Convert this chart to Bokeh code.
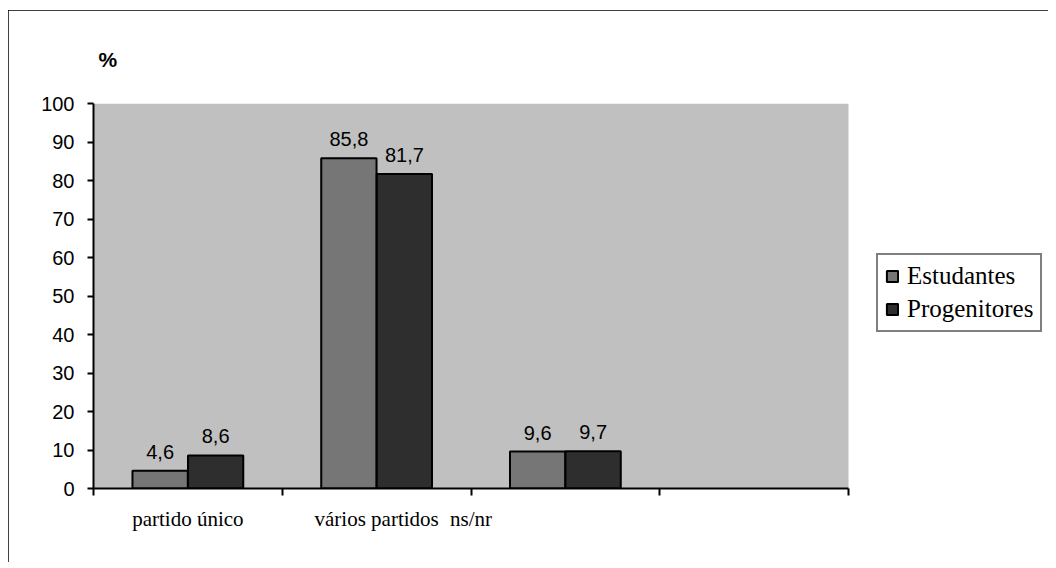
from bokeh.plotting import figure
from bokeh.models import Range1d, FixedTicker, LabelSet, ColumnDataSource, Legend, LegendItem, BoxAnnotation
from bokeh.embed import file_html
from bokeh.resources import INLINE
from bokeh.core.properties import value

categories = ["partido único", "vários partidos", "ns/nr", ""]
series_names = ["Estudantes", "Progenitores"]
estudantes = [4.6, 85.8, 9.6]
progenitores = [8.6, 81.7, 9.7]
y_ticks = list(range(0, 101, 10))

# label positions along the category axis (as printed in the original)
label_pos = [0.5, 1.5, 2.0]

colors = ["#767676", "#2e2e2e"]
offsets = [-0.147, 0.147]
bar_w = 0.293

W, H = 1040, 552
LEFT, RIGHT, TOP, BOTTOM = 85, 4, 93, 74
plot_px = 755  # pixel width of the shaded plot area
frame_w = W - LEFT - RIGHT
n = len(categories)
x_end = n * frame_w / plot_px

p = figure(width=W, height=H, output_backend="svg", toolbar_location=None,
           x_range=Range1d(0, x_end), y_range=Range1d(0, y_ticks[-1]),
           min_border_left=LEFT, min_border_right=RIGHT, min_border_top=TOP, min_border_bottom=BOTTOM)
p.styles = {"margin": "10px 0px 0px 8px", "width": f"{W}px", "height": f"{H}px",
            "outline": "2px solid black", "outline-offset": "-2px"}
p.background_fill_color = "white"
p.border_fill_color = "white"
p.outline_line_color = None
p.xgrid.visible = False
p.ygrid.visible = False

p.add_layout(BoxAnnotation(left=0, right=n, bottom=0, top=y_ticks[-1],
                           fill_color="#c0c0c0", fill_alpha=1.0, line_color=None, level="underlay"))

p.title.text = "%"
p.title.align = "left"
p.title.offset = 5
p.title.standoff = 66
p.title.text_font = "Liberation Sans"
p.title.text_font_style = "bold"
p.title.text_font_size = "21px"
p.title.text_color = "black"

renderers = []
for k, (vals, col) in enumerate(zip([estudantes, progenitores], colors)):
    xs = [i + 0.5 + offsets[k] for i in range(len(vals))]
    src = ColumnDataSource(dict(x=xs, top=vals, lab=[f"{v:.1f}".replace(".", ",") for v in vals]))
    r = p.vbar(x="x", top="top", width=bar_w, bottom=0, source=src,
               fill_color=col, line_color="black", line_width=2)
    renderers.append(r)
    ls = LabelSet(x="x", y="top", text="lab", source=src, text_align="center",
                  text_baseline="bottom", y_offset=12, text_font=value("Liberation Sans"),
                  text_font_size="20px", text_color="black")
    p.add_layout(ls)

# x axis
xa = p.xaxis[0]
xa.bounds = (0, n)
xa.ticker = FixedTicker(ticks=label_pos, minor_ticks=list(range(n + 1)))
xa.major_label_overrides = {pos: categories[i] for i, pos in enumerate(label_pos)}
xa.major_tick_line_color = None
xa.major_tick_out = 0
xa.major_tick_in = 0
xa.minor_tick_out = 7
xa.minor_tick_in = 0
xa.minor_tick_line_color = "black"
xa.minor_tick_line_width = 2
xa.axis_line_color = "black"
xa.axis_line_width = 2
xa.major_label_standoff = 11
xa.major_label_text_font = "Liberation Serif"
xa.major_label_text_font_size = "21px"
xa.major_label_text_color = "black"

# y axis
ya = p.yaxis[0]
ya.bounds = (0, y_ticks[-1])
ya.ticker = FixedTicker(ticks=y_ticks)
ya.minor_tick_line_color = None
ya.major_tick_out = 6
ya.major_tick_in = 0
ya.major_tick_line_width = 2
ya.major_tick_line_color = "black"
ya.axis_line_width = 2
ya.axis_line_color = "black"
ya.major_label_standoff = 13
ya.major_label_text_font = "Liberation Sans"
ya.major_label_text_font_size = "20px"
ya.major_label_text_color = "black"

legend = Legend(items=[LegendItem(label=s, renderers=[r]) for s, r in zip(series_names, renderers)],
                location=(783, 156), margin=0, padding=7, spacing=5,
                glyph_width=14, glyph_height=14, label_standoff=8, label_height=28,
                label_text_font="Liberation Serif", label_text_font_size="25px",
                label_text_color="black", border_line_color="black", border_line_width=2,
                background_fill_color="white", background_fill_alpha=1.0)
p.add_layout(legend, "center")

open("out.html", "w").write(file_html(p, INLINE))
